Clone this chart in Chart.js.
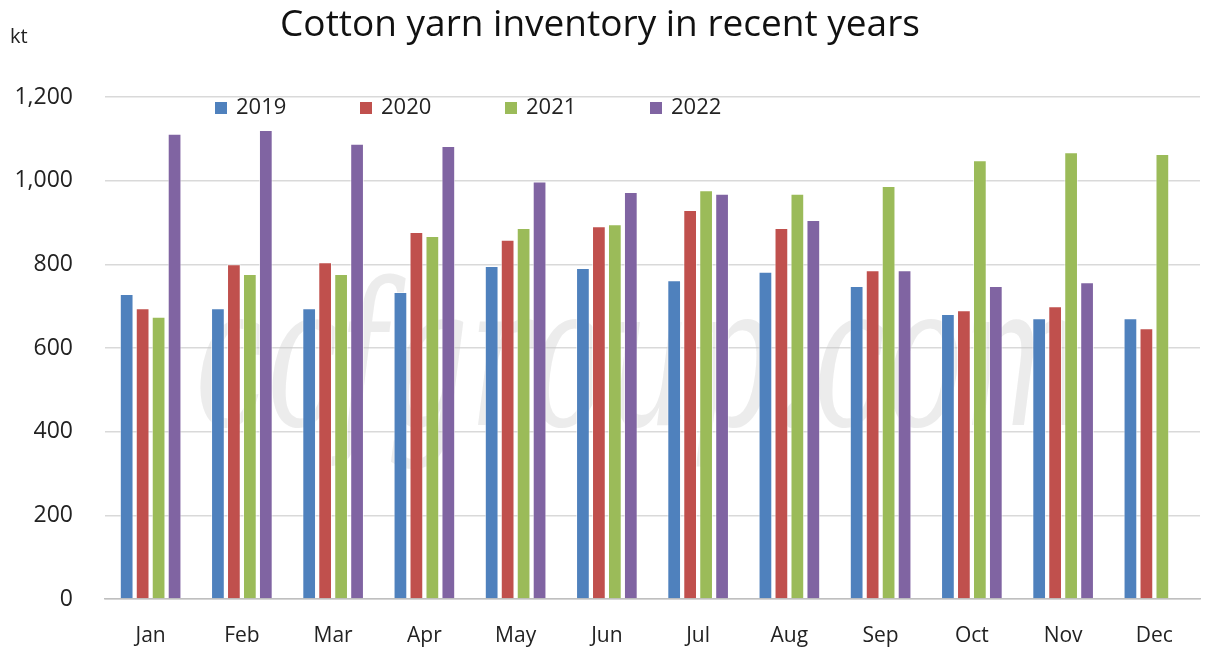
<!DOCTYPE html>
<html>
<head>
<meta charset="utf-8">
<script src="https://cdn.jsdelivr.net/npm/chart.js@4/dist/chart.umd.min.js"></script>
<style>
  html, body { margin: 0; padding: 0; background: #fff; }
  #wrap { width: 1210px; height: 652px; }
</style>
</head>
<body>
<div id="wrap"><canvas id="myChart" width="1210" height="652"></canvas></div>
<script>
// data (kt)
const months = ['Jan', 'Feb', 'Mar', 'Apr', 'May', 'Jun', 'Jul', 'Aug', 'Sep', 'Oct', 'Nov', 'Dec'];
const years = ['2019', '2020', '2021', '2022'];
const y2019 = [729, 695, 695, 734, 796, 791, 762, 782, 748, 681, 671, 671];
const y2020 = [695, 800, 805, 877, 859, 891, 930, 887, 786, 690, 700, 647];
const y2021 = [675, 777, 777, 868, 887, 896, 977, 969, 987, 1049, 1068, 1064];
const y2022 = [1112, 1121, 1088, 1083, 998, 973, 969, 906, 786, 748, 757, null];
const yTicks = [0, 200, 400, 600, 800, 1000, 1200];

const colors = ['#4F81BD', '#C0504D', '#9BBB59', '#8064A2'];
const font = '"Open Sans", "Liberation Sans", sans-serif';

// watermark + unit label + legend drawn inside the plot
let extras = {
    id: 'extras',
    beforeDatasetsDraw(chart) {
        let ctx = chart.ctx;
        ctx.save();
        ctx.font = 'italic 190px "DejaVu Serif", serif';
        let w = ctx.measureText('ccfgroup.com').width;
        let s = 890 / w;
        ctx.translate(195, 425);
        ctx.scale(s, 1.05);
        ctx.fillStyle = 'rgba(200,200,200,0.35)';
        ctx.textBaseline = 'alphabetic';
        ctx.fillText('ccfgroup.com', 0, 0);
        ctx.restore();
    },
    afterDraw(chart) {
        let ctx = chart.ctx;
        let a = chart.chartArea;
        ctx.save();
        ctx.fillStyle = '#222';
        ctx.font = '20px ' + font;
        ctx.textBaseline = 'middle';
        ctx.textAlign = 'left';
        ctx.fillText('kt', 10, 37);

        ctx.font = '22px ' + font;
        chart.data.datasets.forEach(function (ds, i) {
            let x = a.left + 110 + i * 145;
            let y = a.top + 11;
            ctx.fillStyle = ds.backgroundColor;
            ctx.fillRect(x, y - 6, 12, 12);
            ctx.fillStyle = '#222';
            ctx.fillText(ds.label, x + 21, y);
        });
        ctx.restore();
    }
};

let data = [y2019, y2020, y2021, y2022];

let config = {
    type: 'bar',
    data: {
        labels: months,
        datasets: years.map(function (yr, i) {
            return {
                label: yr,
                data: data[i],
                backgroundColor: colors[i],
                borderColor: 'rgba(255,255,255,0.6)',
                borderWidth: 1,
                barPercentage: 0.86,
                categoryPercentage: 0.7
            };
        })
    },
    options: {
        responsive: false,
        animation: false,
        layout: { padding: { top: 0, left: 0, right: 10, bottom: 0 } },
        plugins: {
            legend: { display: false },
            tooltip: { enabled: false },
            title: {
                display: true,
                text: 'Cotton yarn inventory in recent years',
                color: '#111',
                font: { family: font, size: 37, weight: 'normal' },
                padding: { top: 3, bottom: 49.6 }
            }
        },
        scales: {
            x: {
                afterFit: function (scale) { scale.height = 53; },
                grid: { display: false, drawTicks: false },
                border: { display: true, color: '#bfbfbf', width: 1.5 },
                ticks: { color: '#222', font: { family: font, size: 21 }, padding: 24 }
            },
            y: {
                min: 0,
                max: 1200,
                afterFit: function (scale) { scale.width = 105; },
                afterBuildTicks: function (axis) {
                    axis.ticks = yTicks.map(function (v) { return { value: v }; });
                },
                grid: { color: '#d9d9d9', lineWidth: 1.5, drawTicks: false },
                border: { display: false },
                ticks: {
                    color: '#222',
                    font: { family: font, size: 23 },
                    padding: 32,
                    callback: function (v) { return v.toLocaleString('en-US'); }
                }
            }
        }
    },
    plugins: [extras]
};

window.myChart = new Chart(document.getElementById('myChart').getContext('2d'), config);
</script>
</body>
</html>
